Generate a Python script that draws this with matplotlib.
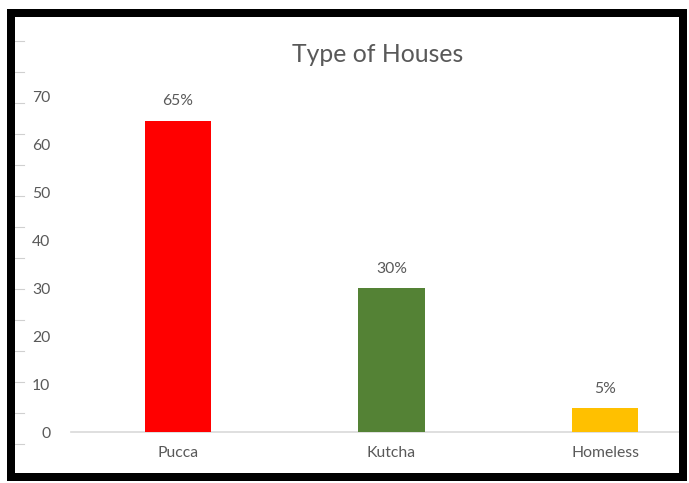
import matplotlib
matplotlib.use("Agg")
import matplotlib.pyplot as plt
from matplotlib.patches import Rectangle
from matplotlib.lines import Line2D

categories = ["Pucca", "Kutcha", "Homeless"]
values = [65, 30, 5]
labels = ["65%", "30%", "5%"]
colors = ["#FF0000", "#548235", "#FFC000"]
yticks = [0, 10, 20, 30, 40, 50, 60, 70]

W, H = 689, 483
fig = plt.figure(figsize=(W / 100, H / 100), dpi=100)
plt.rcParams['font.family'] = ['Lato', 'DejaVu Sans']

def fx(px):
    return px / W

def fy(py):
    return 1 - py / H

# axes: x from 71 to 680, y from 432 (0) to 97 (70)
ax = fig.add_axes([fx(71), fy(432), fx(680) - fx(71), fy(97) - fy(432)])
x = list(range(len(categories)))
ax.bar(x, values, width=0.31, color=colors, zorder=3)
for xi, v, lab in zip(x, values, labels):
    ax.annotate(lab, (xi, v), xytext=(0, 9), textcoords="offset points",
                ha="center", va="bottom", fontsize=11.3, color="#595959",
                clip_on=False)
ax.set_xlim(-0.5, 2.351)
ax.set_ylim(0, 70)
ax.set_yticks(yticks)
ax.set_xticks(x)
ax.set_xticklabels(categories)
ax.tick_params(axis="both", length=0, labelsize=11.3, labelcolor="#595959")
ax.tick_params(axis="y", pad=15)
ax.tick_params(axis="x", pad=10)
for s in ["top", "right", "left"]:
    ax.spines[s].set_visible(False)
ax.spines["bottom"].set_color("#D9D9D9")
ax.spines["bottom"].set_linewidth(1.2)
ax.set_facecolor("none")

fig.text(fx(378), fy(54), "Type of Houses", ha="center", va="center",
         fontsize=17.8, color="#595959")

# left gray row marks
for py in [41, 72, 103, 134, 165, 196, 227, 258, 289, 320, 351, 382, 413, 444]:
    fig.add_artist(Line2D([fx(15), fx(24)], [fy(py), fy(py)], color="#D0D0D0",
                          linewidth=0.8, transform=fig.transFigure, zorder=1))

# black frame
lw_px = 8
fig.add_artist(Rectangle((fx(11), fy(477)), fx(683) - fx(11), fy(13) - fy(477),
                         fill=False, edgecolor="black", linewidth=lw_px * 0.72,
                         transform=fig.transFigure, joinstyle="miter", zorder=5))

fig.savefig("out.png", dpi=100)
